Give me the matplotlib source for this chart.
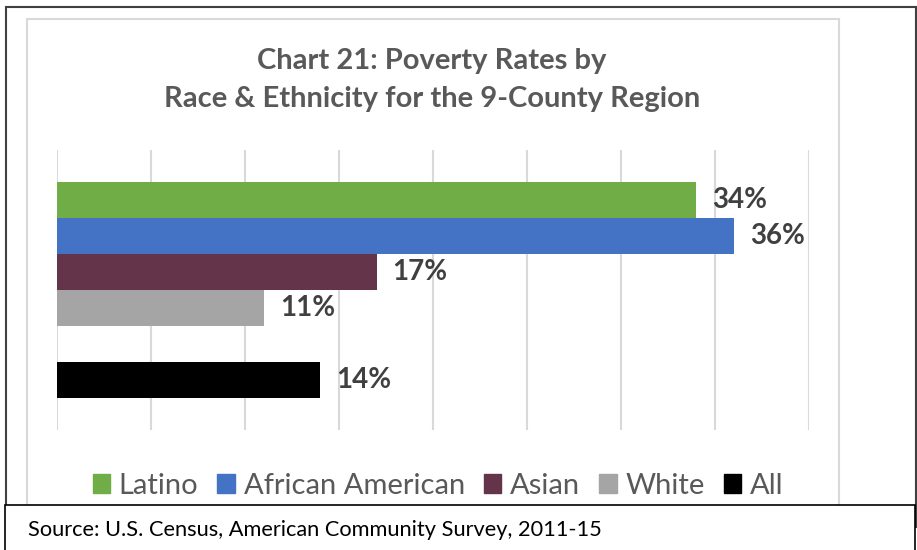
import matplotlib.pyplot as plt
from matplotlib.patches import Rectangle

groups = ['Latino', 'African American', 'Asian', 'White', 'All']
rates = [34, 36, 17, 11, 14]
colors = ['#70AD47', '#4472C4', '#64344A', '#A5A5A5', '#000000']
title = 'Chart 21: Poverty Rates by\nRace & Ethnicity for the 9-County Region'
source = 'Source: U.S. Census, American Community Survey, 2011-15'

plt.rcParams['font.family'] = ['Lato', 'DejaVu Sans']

W, H = 917, 550
fig = plt.figure(figsize=(W / 100, H / 100), dpi=100)

# ---- frames drawn in pixel coords ----
bg = fig.add_axes([0, 0, 1, 1], zorder=0)
bg.set_xlim(0, W)
bg.set_ylim(H, 0)
bg.axis('off')
bg.add_patch(Rectangle((6, 7), 910, 520, fill=False, ec='#404040', lw=1.5))
bg.add_patch(Rectangle((27, 19), 812, 520, fill=False, ec='#D9D9D9', lw=1.5))
bg.text(432, 80, title, ha='center', va='center', fontsize=21,
        fontweight='bold', color='#595959', linespacing=1.6)

# ---- bars ----
ax = fig.add_axes([57 / W, 1 - 430 / H, 752 / W, 280 / H], zorder=1)
ax.patch.set_alpha(0)
rows = [0, 1, 2, 3, 5]
ax.barh(rows, rates, height=1.0, color=colors, zorder=2)
for r, v in zip(rows, rates):
    ax.annotate(f'{v}%', (v, r), xytext=(11.5, 0), textcoords='offset points',
                ha='left', va='center', fontsize=20, fontweight='bold',
                color='#404040')
ax.set_xlim(0, 40)
ax.set_ylim(6.4, -1.4)
ax.set_xticks(range(0, 41, 5))
ax.grid(axis='x', color='#D9D9D9', lw=1.5, zorder=0)
ax.tick_params(left=False, bottom=False, labelleft=False, labelbottom=False)
for s in ax.spines.values():
    s.set_visible(False)

# ---- legend ----
handles = [Rectangle((0, 0), 1, 1, color=c) for c in colors]
fig.legend(handles, groups, loc='center', bbox_to_anchor=(438 / W, 1 - 486 / H),
           ncol=5, frameon=False, fontsize=21, labelcolor='#595959',
           handlelength=0.6, handleheight=0.6, handletextpad=0.3,
           columnspacing=0.65, borderpad=0)

# ---- source box ----
top = fig.add_axes([0, 0, 1, 1], zorder=3)
top.set_xlim(0, W)
top.set_ylim(H, 0)
top.axis('off')
top.add_patch(Rectangle((5, 505), 910, 60, fc='white', ec='black', lw=1.2,
                        clip_on=False))
top.text(28, 530, source, ha='left', va='center', fontsize=15.7, color='black')

fig.savefig('out.png', dpi=100)
